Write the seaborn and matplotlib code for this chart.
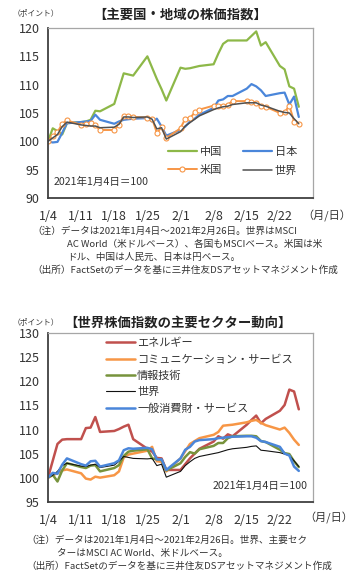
import pandas as pd
import matplotlib
matplotlib.use("Agg")
import matplotlib.pyplot as plt
import seaborn as sns

sns.set_style("white")
plt.rcParams['font.family'] = ['Noto Sans CJK JP', 'DejaVu Sans']

# 営業日 2021/1/4 ～ 2021/2/26
dates = pd.bdate_range("2021-01-04", "2021-02-26")

# 上段：主要国・地域の株価指数
china = [100.0, 102.3, 101.8, 101.2, 103.2,
         103.4, 103.5, 103.8, 105.4, 105.3,
         106.6, 109.3, 112.0, 111.8, 111.6,
         115.0, 113.0, 111.0, 109.2, 107.2,
         113.0, 112.8, 112.9, 113.1, 113.3,
         113.6, 115.5, 117.2, 117.8, 117.8,
         117.8, 118.6, 119.4, 116.9, 117.5,
         113.3, 112.7, 109.7, 109.3, 106.1]
japan = [100.0, 99.8, 99.9, 101.5, 103.2,
         103.4, 103.5, 103.6, 104.7, 103.8,
         103.1, 103.5, 103.8, 103.9, 104.0,
         104.1, 103.5, 104.0, 102.6, 101.0,
         102.0, 102.6, 103.5, 104.0, 104.7,
         105.9, 107.2, 107.4, 108.0, 108.0,
         109.3, 110.1, 109.7, 109.0, 108.0,
         108.5, 108.6, 106.5, 107.9, 104.3]
usa = [100.0, 100.9, 101.6, 103.1, 103.7,
       102.9, 103.1, 103.2, 102.8, 102.0,
       102.0, 102.9, 104.5, 104.5, 104.3,
       104.2, 104.0, 101.5, 102.5, 100.6,
       102.3, 104.0, 104.1, 105.1, 105.6,
       106.3, 106.3, 106.3, 106.5, 107.1,
       107.1, 107.0, 106.8, 106.3, 106.1,
       105.0, 105.1, 106.3, 103.5, 103.1]
world_top = [100.0, 100.6, 101.2, 102.6, 103.4,
             102.9, 102.8, 102.7, 102.7, 102.4,
             102.5, 103.0, 104.3, 104.3, 104.2,
             104.3, 103.9, 102.2, 102.4, 100.4,
             101.7, 102.7, 103.3, 103.9, 104.5,
             105.6, 105.9, 106.1, 106.2, 106.5,
             106.8, 106.8, 106.8, 106.4, 106.2,
             105.3, 105.1, 105.0, 104.0, 103.1]

# 下段：世界株価指数の主要セクター
energy = [100.0, 103.5, 107.0, 107.9, 108.0,
          108.0, 110.3, 110.4, 112.6, 109.5,
          109.7, 110.1, 110.6, 111.0, 108.0,
          106.0, 105.4, 104.1, 104.0, 101.6,
          101.6, 102.8, 104.0, 105.0, 106.0,
          107.5, 108.6, 108.1, 109.0, 108.6,
          111.0, 112.0, 112.9, 111.3, 112.2,
          113.9, 115.1, 118.3, 117.9, 114.2]
comm = [100.0, 100.5, 100.9, 101.5, 101.7,
        100.9, 99.8, 99.6, 100.2, 100.0,
        100.5, 101.3, 104.2, 104.8, 105.0,
        105.6, 106.4, 103.4, 103.3, 101.3,
        104.0, 105.5, 107.0, 107.6, 108.2,
        108.9, 109.5, 110.8, 110.9, 111.0,
        111.5, 111.8, 112.0, 111.4, 110.9,
        110.0, 110.4, 109.3, 107.9, 106.8]
tech = [100.0, 100.6, 99.2, 101.5, 103.0,
        102.2, 102.0, 102.5, 102.6, 101.3,
        102.0, 102.6, 104.5, 105.4, 105.6,
        105.9, 104.0, 103.8, 103.7, 101.5,
        103.0, 104.3, 105.3, 105.0, 105.9,
        106.6, 107.2, 107.2, 108.2, 108.6,
        108.7, 108.7, 108.6, 107.6, 107.4,
        105.8, 105.1, 104.9, 103.4, 102.2]
world_sec = [100.0, 100.5, 101.3, 102.5, 103.0,
             102.4, 102.3, 102.6, 102.8, 102.1,
             102.6, 103.4, 104.4, 104.2, 104.0,
             103.9, 104.0, 102.5, 102.8, 100.1,
             101.3, 102.5, 103.3, 104.0, 104.4,
             105.0, 105.2, 105.5, 105.8, 106.0,
             106.3, 106.5, 106.6, 105.7, 105.6,
             105.2, 104.9, 104.6, 103.5, 102.3]
consumer = [100.0, 101.0, 100.8, 102.7, 104.0,
            102.8, 102.5, 103.4, 103.5, 102.3,
            103.0, 103.6, 105.7, 106.1, 106.0,
            106.2, 105.9, 103.8, 103.8, 101.6,
            104.0, 105.8, 106.4, 107.5, 107.8,
            108.0, 108.2, 108.3, 108.4, 108.5,
            108.6, 108.6, 108.3, 107.6, 107.4,
            106.4, 105.0, 104.6, 102.3, 101.4]

tick_dates = pd.date_range("2021-01-04", "2021-03-01", freq="7D")
tick_labels = ["1/4", "1/11", "1/18", "1/25", "2/1", "2/8", "2/15", "2/22", ""]

W, H = 356, 577
fig = plt.figure(figsize=(W / 100, H / 100), dpi=100)
TXT = '#333333'


def px(x, y):
    return x / W, 1 - y / H


def style_axis(ax, ymin, ymax):
    ax.set_xlim(pd.Timestamp("2021-01-04"), pd.Timestamp("2021-03-01"))
    ax.set_ylim(ymin, ymax)
    ax.set_yticks(range(ymin, ymax + 1, 5))
    ax.set_xticks(tick_dates)
    ax.set_xticklabels(tick_labels)
    ax.set_xlabel("")
    ax.set_ylabel("")
    ax.tick_params(axis='both', direction='in', length=3, width=1,
                   color='#404040', labelsize=9, labelcolor=TXT)
    ax.tick_params(axis='x', pad=9)
    ax.tick_params(axis='y', pad=6)
    for s in ['left', 'bottom']:
        ax.spines[s].set_color('#404040')
        ax.spines[s].set_linewidth(1.3)
    for s in ['top', 'right']:
        ax.spines[s].set_color('#a6a6a6')
        ax.spines[s].set_linewidth(0.9)


# ---- 上段 ----
ax1 = fig.add_axes([48 / W, 1 - 198 / H, 265 / W, 170 / H])
sns.lineplot(x=dates, y=china, ax=ax1, color='#8db848', lw=1.6, label='中国')
sns.lineplot(x=dates, y=japan, ax=ax1, color='#4a86da', lw=1.6, label='日本')
sns.lineplot(x=dates, y=usa, ax=ax1, color='#f79646', lw=1.4, label='米国',
             marker='o', markersize=3.6, markerfacecolor='white',
             markeredgecolor='#f79646', markeredgewidth=0.8)
sns.lineplot(x=dates, y=world_top, ax=ax1, color='#505050', lw=1.1, label='世界')
style_axis(ax1, 90, 120)
h, l = ax1.get_legend_handles_labels()
order = [0, 2, 1, 3]
ax1.legend([h[i] for i in order], [l[i] for i in order], ncol=2,
           loc='upper left', bbox_to_anchor=px(168, 147),
           bbox_transform=fig.transFigure, frameon=False, fontsize=8,
           handlelength=2.6, handletextpad=0.25, columnspacing=1.9,
           labelspacing=0.75, borderpad=0, borderaxespad=0, labelcolor=TXT)
ax1.text(0.02, 0.095, "2021年1月4日＝100", transform=ax1.transAxes,
         fontsize=7.6, color=TXT, va='center')

fig.text(*px(13, 13), "（ポイント）", fontsize=5.6, color=TXT, va='center')
fig.text(*px(180, 15), "【主要国・地域の株価指数】", fontsize=9.6,
         fontweight='bold', color='#222222', ha='center', va='center')
fig.text(*px(302, 216), "（月/日）", fontsize=8, color=TXT, va='center')

notes1 = [(32, 231, "（注）データは2021年1月4日～2021年2月26日。世界はMSCI"),
          (67, 244, "AC World（米ドルベース）、各国もMSCIベース。米国は米"),
          (67, 257, "ドル、中国は人民元、日本は円ベース。"),
          (32, 270, "（出所）FactSetのデータを基に三井住友DSアセットマネジメント作成")]
for x, y, s in notes1:
    fig.text(*px(x, y), s, fontsize=6.9, color=TXT, va='center')

# ---- 下段 ----
ax2 = fig.add_axes([48 / W, 1 - 501.7 / H, 265 / W, 168.4 / H])
sns.lineplot(x=dates, y=energy, ax=ax2, color='#c0504d', lw=1.8, label='エネルギー')
sns.lineplot(x=dates, y=comm, ax=ax2, color='#f79646', lw=1.8,
             label='コミュニケーション・サービス')
sns.lineplot(x=dates, y=tech, ax=ax2, color='#77933c', lw=1.8, label='情報技術')
sns.lineplot(x=dates, y=world_sec, ax=ax2, color='#111111', lw=0.8, label='世界')
sns.lineplot(x=dates, y=consumer, ax=ax2, color='#4a86da', lw=1.8,
             label='一般消費財・サービス')
style_axis(ax2, 95, 130)
ax2.legend(loc='upper left', bbox_to_anchor=px(106, 338),
           bbox_transform=fig.transFigure, frameon=False, fontsize=8,
           handlelength=2.6, handletextpad=0.2, labelspacing=0.55,
           borderpad=0, borderaxespad=0, labelcolor=TXT)
ax2.text(0.98, 0.095, "2021年1月4日＝100", transform=ax2.transAxes,
         fontsize=7.6, color=TXT, va='center', ha='right')

fig.text(*px(13, 322), "（ポイント）", fontsize=5.6, color=TXT, va='center')
fig.text(*px(178, 323), "【世界株価指数の主要セクター動向】", fontsize=9.6,
         fontweight='bold', color='#222222', ha='center', va='center')
fig.text(*px(304, 518), "（月/日）", fontsize=8, color=TXT, va='center')

notes2 = [(26, 540, "（注）データは2021年1月4日～2021年2月26日。世界、主要セク"),
          (57, 553, "ターはMSCI AC World、米ドルベース。"),
          (26, 566, "（出所）FactSetのデータを基に三井住友DSアセットマネジメント作成")]
for x, y, s in notes2:
    fig.text(*px(x, y), s, fontsize=6.9, color=TXT, va='center')

fig.savefig("out.png", dpi=100)
